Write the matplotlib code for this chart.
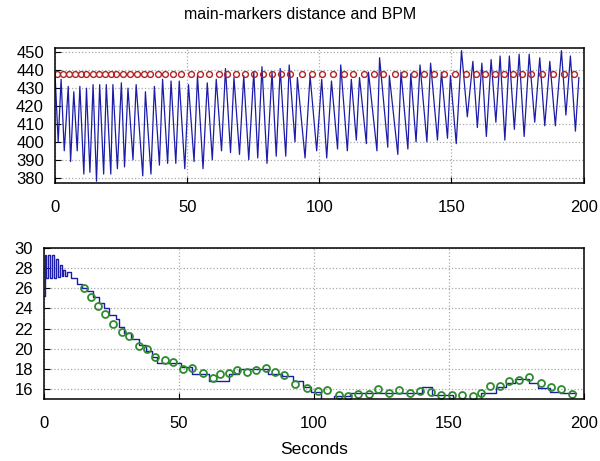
import matplotlib
matplotlib.use('Agg')
import matplotlib.pyplot as plt

plt.rcParams['font.family'] = ['Liberation Sans', 'DejaVu Sans']

# top: marker distance (peaks / troughs), beat markers
dist_t = [0.0, 1.2, 2.3, 3.5, 5.0, 5.9, 7.1, 8.4, 9.4, 10.9, 11.9, 13.2, 14.4, 15.7,
          16.9, 18.4, 19.4, 21.1, 21.9, 23.6, 25.1, 26.3, 27.6, 29.5, 30.7, 33.2,
          34.2, 36.3, 37.6, 39.5, 40.7, 42.6, 43.9, 45.7, 47.0, 49.1, 50.5, 52.6,
          53.9, 56.0, 57.6, 59.5, 61.0, 63.0, 64.5, 66.4, 67.7, 69.8, 71.4, 73.3,
          75.2, 76.7, 78.3, 80.2, 82.1, 83.7, 85.2, 87.3, 88.6, 90.8, 91.7, 94.6,
          96.5, 99.0, 100.9, 102.8, 104.6, 106.9, 108.1, 110.6, 112.1, 114.0, 115.2,
          117.8, 118.6, 121.8, 122.8, 125.9, 126.5, 129.7, 130.9, 133.5, 134.6,
          136.6, 138.1, 140.7, 142.1, 144.7, 146.2, 148.5, 149.6, 151.8, 153.8,
          156.0, 158.1, 159.8, 161.5, 163.2, 165.0, 166.8, 168.4, 170.2, 171.9,
          173.8, 175.6, 177.5, 179.4, 181.5, 183.4, 185.3, 187.2, 189.3, 191.6,
          193.3, 195.0, 196.9, 198.2]
dist_v = [438, 400, 435, 395, 431, 389, 428, 395, 431, 382, 430, 383, 432, 378,
          432, 382, 432, 382, 432, 385, 433, 386, 430, 390, 432, 381,
          428, 382, 431, 387, 435, 388, 434, 388, 434, 385, 432, 389,
          437, 385, 433, 390, 435, 395, 441, 394, 436, 393, 437, 390,
          439, 391, 442, 388, 439, 392, 441, 392, 443, 400, 436, 391,
          437, 395, 435, 391, 434, 396, 443, 395, 435, 401, 436,
          399, 439, 395, 447, 397, 437, 393, 439, 396, 438,
          400, 443, 400, 444, 401, 439, 402, 437, 399, 451,
          414, 445, 408, 444, 403, 446, 411, 448, 401, 448,
          407, 449, 403, 449, 411, 447, 409, 445, 409, 451,
          415, 448, 406, 436]

beat_t = [0.9, 3.1, 5.4, 7.5, 9.7, 11.9, 14.2, 16.7, 18.8, 21.1, 23.2, 25.9, 28.5,
          30.9, 33.5, 36.0, 38.8, 41.6, 44.5, 47.6, 51.4, 54.9, 58.3, 62.0, 65.2,
          68.3, 71.7, 75.2, 78.7, 82.2, 85.6, 89.0, 93.4, 97.4, 101.1, 105.0, 109.4,
          112.8, 116.9, 120.7, 124.1, 128.5, 132.0, 135.7, 139.5, 143.5, 147.3,
          151.2, 155.4, 159.4, 162.5, 166.3, 169.8, 173.2, 176.7, 180.2, 184.2,
          188.3, 192.4, 196.3]
beat_level = [438] * len(beat_t)

# bottom: running BPM estimate (steps) and BPM per beat
est_t = [0.0, 0.3, 0.9, 1.5, 2.2, 3.0, 3.7, 4.4, 5.1, 5.8, 6.5, 7.2, 7.9, 8.6,
         10.1, 12.2, 14.1, 15.8, 18.1, 20.3, 22.4, 24.2, 26.7, 27.9, 29.7, 32.2,
         35.3, 37.7, 40.2, 42.0, 50.6, 54.9, 61.0, 68.4, 72.4, 83.2, 88.1, 92.4,
         96.0, 98.8, 102.5, 107.6, 113.3, 140.1, 143.8, 151.7, 162.1, 167.6,
         171.3, 174.5, 179.9, 183.0, 187.4, 191.1, 197.2]
est_v = [25.2, 29.3, 27.0, 29.3, 27.0, 29.3, 27.0, 28.9, 27.1, 28.3, 27.2, 27.8, 27.2, 27.6,
         27.0, 26.45, 26.0, 25.7, 25.1, 24.5, 24.0, 23.3, 22.9, 22.2, 21.6, 21.0,
         20.4, 19.8, 19.2, 18.6, 18.15, 17.5, 16.8, 17.5, 18.0, 17.5, 17.3, 16.8,
         16.2, 15.7, 14.8, 15.3, 15.6, 16.2, 15.4, 14.9, 15.6, 16.2,
         16.6, 17.0, 16.6, 16.1, 15.7, 15.6, 15.6]

bpm_t = [15.0, 17.4, 19.9, 22.7, 25.7, 28.9, 31.6, 35.3, 38.0, 41.2, 44.7, 47.9,
         51.5, 54.7, 58.8, 62.5, 65.4, 68.4, 71.5, 75.2, 78.5, 82.3, 85.6, 89.0,
         93.2, 97.6, 101.5, 104.9, 109.4, 112.5, 116.5, 120.5, 123.9, 127.8,
         131.7, 135.8, 139.4, 143.4, 147.1, 151.1, 154.8, 159.1, 162.1, 165.4,
         169.1, 172.5, 176.2, 179.9, 184.0, 187.9, 191.5, 195.6]
bpm_v = [26.05, 25.1, 24.2, 23.4, 22.5, 21.7, 21.25, 20.3, 19.95, 19.2, 18.9, 18.7,
         18.0, 18.1, 17.6, 17.1, 17.5, 17.6, 17.9, 17.7, 17.9, 18.05, 17.65, 17.4,
         16.5, 16.1, 15.75, 15.9, 15.35, 15.25, 15.5, 15.5, 16.0, 15.6,
         15.9, 15.6, 15.8, 15.7, 15.35, 15.4, 15.4, 15.33, 15.6, 16.25,
         16.25, 16.75, 16.85, 17.2, 16.6, 16.15, 15.98, 15.5]

fig = plt.figure(figsize=(6, 4.61), dpi=100)
ax1 = fig.add_axes([0.0917, 0.603, 0.881, 0.293])
ax2 = fig.add_axes([0.0733, 0.1345, 0.8995, 0.3275])

ax1.plot(dist_t, dist_v, color='#1c1ca8', lw=0.9)
ax1.plot(beat_t, beat_level, 'o', mfc='none', mec='#b22222', ms=4.2, mew=1.0, ls='none')
ax1.set_xlim(0, 200)
ax1.set_ylim(377, 452.5)
ax1.set_yticks(range(380, 451, 10))
ax1.set_xticks(range(0, 201, 50))

ax2.plot(est_t, est_v, color='#1c1ca8', lw=1.0, drawstyle='steps-post')
ax2.plot(bpm_t, bpm_v, 'o', mfc='none', mec='#2e8b2e', ms=5, mew=1.3, ls='none')
ax2.set_xlim(0, 200)
ax2.set_ylim(15, 30)
ax2.set_yticks(range(16, 31, 2))
ax2.set_xticks(range(0, 201, 50))
ax2.set_xlabel('Seconds', fontsize=12.5, labelpad=8)

for ax in (ax1, ax2):
    ax.grid(True, ls=':', color='#aaaaaa', lw=0.9)
    ax.tick_params(direction='in', labelsize=12, length=4)
    ax.tick_params(axis='x', pad=12)
    ax.tick_params(axis='y', pad=8)
    for s in ax.spines.values():
        s.set_linewidth(1.1)

fig.suptitle('main-markers distance and BPM', fontsize=11.5, y=0.985)

fig.savefig('out.png', dpi=100)
